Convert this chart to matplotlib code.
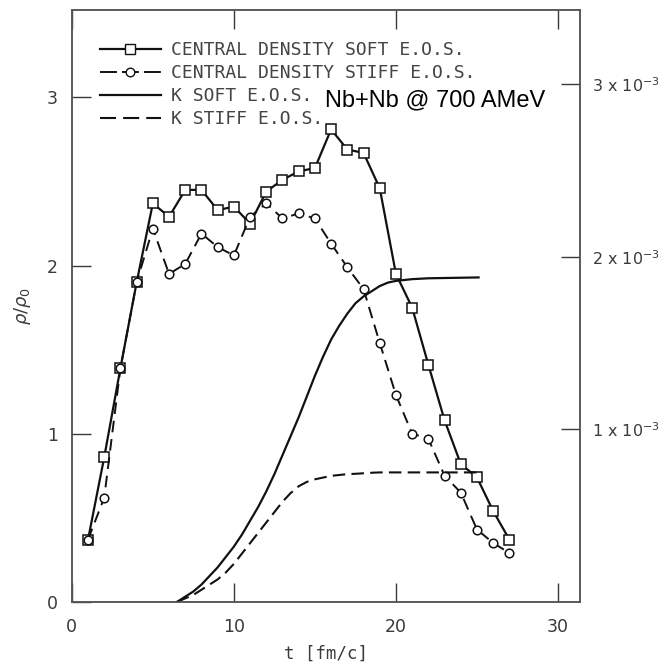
import matplotlib
matplotlib.use("Agg")
import matplotlib.pyplot as plt
from matplotlib.lines import Line2D

plt.rcParams['font.family'] = ['DejaVu Sans']
plt.rcParams['mathtext.fontset'] = 'dejavusans'

# Central density (rho/rho0) vs time, soft and stiff equations of state
t_dens = list(range(1, 28))
rho_soft = [0.37, 0.86, 1.39, 1.90, 2.37, 2.29, 2.45, 2.45, 2.33, 2.35,
            2.25, 2.44, 2.51, 2.56, 2.58, 2.81, 2.69, 2.67, 2.46, 1.95,
            1.75, 1.41, 1.08, 0.82, 0.74, 0.54, 0.37]
rho_stiff = [0.37, 0.62, 1.39, 1.90, 2.22, 1.95, 2.01, 2.19, 2.11, 2.06,
             2.29, 2.37, 2.28, 2.31, 2.28, 2.13, 1.99, 1.86, 1.54, 1.23,
             1.00, 0.97, 0.75, 0.65, 0.43, 0.35, 0.29]

# Kaon yield (right axis, units of 1e-3) vs time
t_k = [6.5, 7, 7.5, 8, 8.5, 9, 9.5, 10, 10.5, 11, 11.5, 12, 12.5, 13, 13.5,
       14, 14.5, 15, 15.5, 16, 16.5, 17, 17.5, 18, 18.5, 19, 19.5, 20, 21,
       22, 25.1]
k_soft = [0.0, 0.03, 0.06, 0.10, 0.15, 0.20, 0.26, 0.32, 0.39, 0.47, 0.55,
          0.64, 0.74, 0.85, 0.96, 1.07, 1.19, 1.31, 1.42, 1.52, 1.60, 1.67,
          1.73, 1.77, 1.80, 1.83, 1.85, 1.86, 1.87, 1.875, 1.88]
k_stiff = [0.0, 0.02, 0.04, 0.07, 0.10, 0.13, 0.17, 0.22, 0.28, 0.34, 0.40,
           0.46, 0.52, 0.58, 0.63, 0.67, 0.695, 0.71, 0.72, 0.73, 0.735, 0.74,
           0.742, 0.745, 0.748, 0.75, 0.75, 0.75, 0.75, 0.75, 0.75]
k_soft = [v * 1e-3 for v in k_soft]
k_stiff = [v * 1e-3 for v in k_stiff]

x_ticks = [0, 10, 20, 30]
y_ticks = [0, 1, 2, 3]
k_ticks = [1e-3, 2e-3, 3e-3]
k_tick_labels = ['1 x 10$^{-3}$', '2 x 10$^{-3}$', '3 x 10$^{-3}$']

ink = '#111111'
grey = '#3a3a3a'
mono = 'DejaVu Sans Mono'

fig = plt.figure(figsize=(6.65, 6.65), dpi=100)
ax = fig.add_axes([0.108, 0.095, 0.764, 0.890])
ax2 = ax.twinx()

ax.plot(t_dens, rho_soft, '-', color=ink, lw=1.6, marker='s', ms=6.7,
        mfc='white', mec=ink, mew=1.1, zorder=3)
ax.plot(t_dens, rho_stiff, color=ink, lw=1.4, ls=(0, (6, 3.5)), marker='o',
        ms=6.2, mfc='white', mec=ink, mew=1.1, zorder=3)

ax2.plot(t_k, k_soft, '-', color=ink, lw=1.6)
ax2.plot(t_k, k_stiff, color=ink, lw=1.5, ls=(0, (6, 3)))

ax.set_xlim(0, 31.35)
ax.set_ylim(0, 3.52)
ax2.set_ylim(0, 3.43e-3)

ax.set_xticks(x_ticks)
ax.set_yticks(y_ticks)
ax2.set_yticks(k_ticks)
ax2.set_yticklabels(k_tick_labels)

ax.tick_params(axis='both', direction='in', length=13.5, width=1.0,
               colors=grey, labelsize=12.5, top=True, right=False)
ax.tick_params(axis='x', pad=12)
ax.tick_params(axis='y', pad=10)
ax2.tick_params(axis='y', direction='in', length=13.5, width=1.0,
                colors=grey, labelsize=11.5, pad=9)

for a in (ax, ax2):
    for s in a.spines.values():
        s.set_color('#555555')
        s.set_linewidth(1.1)

ax.set_xlabel('t [fm/c]', fontsize=12.5, family=mono, color=grey, labelpad=6)
ax.set_ylabel(r'$\rho/\rho_0$', fontsize=13, color=grey, labelpad=10)

ax.text(15.6, 2.98, 'Nb+Nb @ 700 AMeV', fontsize=17,
        family='Liberation Sans', color='black', ha='left', va='center')

handles = [
    Line2D([], [], color=ink, lw=1.6, marker='s', ms=6.7, mfc='white', mec=ink),
    Line2D([], [], color=ink, lw=1.4, ls=(0, (8.7, 2.6)), marker='o', ms=6.2,
           mfc='white', mec=ink),
    Line2D([], [], color=ink, lw=1.6),
    Line2D([], [], color=ink, lw=1.5, ls=(0, (7.7, 3.4))),
]
labels = ['CENTRAL DENSITY SOFT E.O.S.', 'CENTRAL DENSITY STIFF E.O.S.',
          'K SOFT E.O.S.', 'K STIFF E.O.S.']
leg = ax2.legend(handles, labels, loc='upper left',
                 bbox_to_anchor=(0.055, 0.947), frameon=False, borderpad=0,
                 borderaxespad=0, numpoints=1, handlelength=3.4,
                 handletextpad=0.55, labelspacing=0.27,
                 prop={'size': 13, 'family': mono})
for txt in leg.get_texts():
    txt.set_color('#444444')

fig.savefig('out.png', dpi=100)
